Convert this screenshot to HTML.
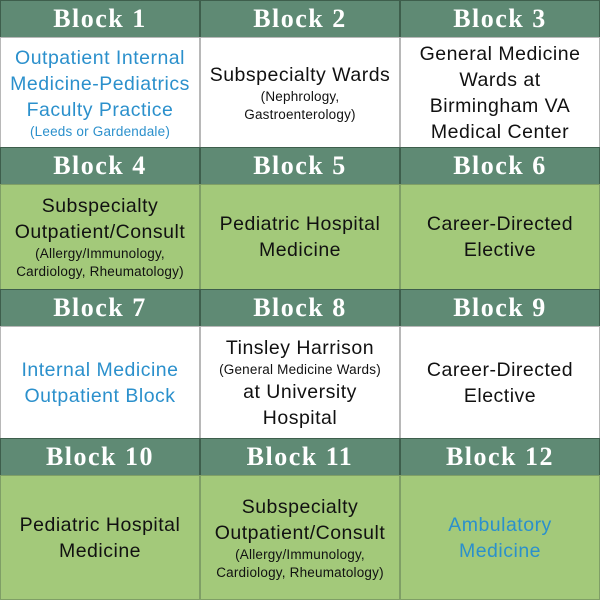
<!DOCTYPE html>
<html><head><meta charset="utf-8"><style>
body{margin:0;width:600px;height:600px;overflow:hidden;background:#fff;font-family:"Liberation Sans",sans-serif}
.c{position:absolute;box-sizing:border-box;display:flex;flex-direction:column;align-items:center;justify-content:center;text-align:center;}
.h{background:#5f8a74;color:#fff;font-family:"Liberation Serif",serif;font-weight:bold;font-size:26px;border:1px solid #3e5e4c;letter-spacing:1.5px}
.w{background:#fff;border:1px solid #b8b8b8;color:#111;font-size:19.5px;line-height:26px;letter-spacing:0.5px}
.g{background:#a3c97a;border:1px solid #7f9f66;color:#111;font-size:19.5px;line-height:26px;letter-spacing:0.5px}
.s{font-size:13.5px;line-height:18px;letter-spacing:0.2px}
.b{color:#2b90cc}
</style></head><body>
<div class="c h" style="left:0;top:0;width:200px;height:38px">Block 1</div>
<div class="c h" style="left:200px;top:0;width:200px;height:38px">Block 2</div>
<div class="c h" style="left:400px;top:0;width:200px;height:38px">Block 3</div>
<div class="c w b" style="left:0;top:37px;width:200px;height:111px"><div>Outpatient Internal<br>Medicine-Pediatrics<br>Faculty Practice</div><div class="s">(Leeds or Gardendale)</div></div>
<div class="c w" style="left:200px;top:37px;width:200px;height:111px"><div>Subspecialty Wards</div><div class="s">(Nephrology,<br>Gastroenterology)</div></div>
<div class="c w" style="left:400px;top:37px;width:200px;height:111px"><div>General Medicine<br>Wards at<br>Birmingham VA<br>Medical Center</div></div>
<div class="c h" style="left:0;top:147px;width:200px;height:38px">Block 4</div>
<div class="c h" style="left:200px;top:147px;width:200px;height:38px">Block 5</div>
<div class="c h" style="left:400px;top:147px;width:200px;height:38px">Block 6</div>
<div class="c g" style="left:0;top:184px;width:200px;height:106px"><div>Subspecialty<br>Outpatient/Consult</div><div class="s">(Allergy/Immunology,<br>Cardiology, Rheumatology)</div></div>
<div class="c g" style="left:200px;top:184px;width:200px;height:106px"><div>Pediatric Hospital<br>Medicine</div></div>
<div class="c g" style="left:400px;top:184px;width:200px;height:106px"><div>Career-Directed<br>Elective</div></div>
<div class="c h" style="left:0;top:289px;width:200px;height:38px">Block 7</div>
<div class="c h" style="left:200px;top:289px;width:200px;height:38px">Block 8</div>
<div class="c h" style="left:400px;top:289px;width:200px;height:38px">Block 9</div>
<div class="c w b" style="left:0;top:326px;width:200px;height:113px"><div>Internal Medicine<br>Outpatient Block</div></div>
<div class="c w" style="left:200px;top:326px;width:200px;height:113px"><div>Tinsley Harrison</div><div class="s">(General Medicine Wards)</div><div>at University<br>Hospital</div></div>
<div class="c w" style="left:400px;top:326px;width:200px;height:113px"><div>Career-Directed<br>Elective</div></div>
<div class="c h" style="left:0;top:438px;width:200px;height:38px">Block 10</div>
<div class="c h" style="left:200px;top:438px;width:200px;height:38px">Block 11</div>
<div class="c h" style="left:400px;top:438px;width:200px;height:38px">Block 12</div>
<div class="c g" style="left:0;top:475px;width:200px;height:125px"><div>Pediatric Hospital<br>Medicine</div></div>
<div class="c g" style="left:200px;top:475px;width:200px;height:125px"><div>Subspecialty<br>Outpatient/Consult</div><div class="s">(Allergy/Immunology,<br>Cardiology, Rheumatology)</div></div>
<div class="c g b" style="left:400px;top:475px;width:200px;height:125px"><div>Ambulatory<br>Medicine</div></div>
</body></html>
